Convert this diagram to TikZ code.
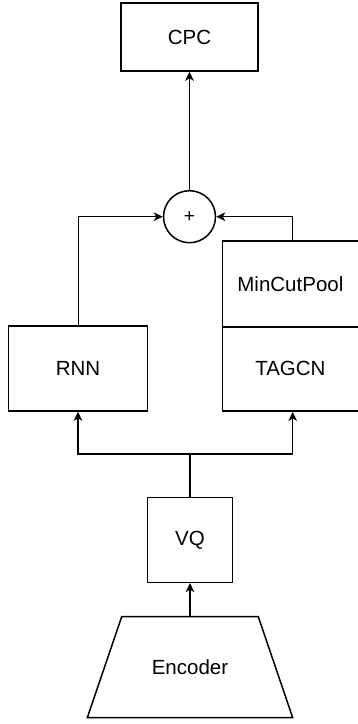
\documentclass[tikz,border=0pt]{standalone}
\usepackage{fontspec}
\setmainfont{Liberation Sans}
\usetikzlibrary{arrows.meta}
\begin{document}
\begin{tikzpicture}[x=1pt,y=-1pt,
  box/.style={draw, line width=1.5pt, rectangle, inner sep=0pt, font=\fontsize{20.5}{24}\selectfont},
  conn/.style={line width=1.5pt, -{Stealth[length=9pt,width=8.5pt,inset=2.5pt]}},
  plain/.style={line width=1.5pt}]
\clip (0,0) rectangle (358,724);
\fill[white] (0,0) rectangle (358,724);
\node[box, minimum width=137pt, minimum height=68pt] (cpc) at (189.5,37) {CPC};
\node[draw, circle, line width=1.5pt, minimum size=52pt, inner sep=0pt, font=\fontsize{19}{22}\selectfont] (sum) at (189.5,216.7) {+};
\node[box, minimum width=139.4pt, minimum height=85pt] (rnn) at (78,368.5) {RNN};
\node[box, minimum width=136pt, minimum height=85.7pt] (mincut) at (290.4,283.9) {MinCutPool};
\node[box, minimum width=136pt, minimum height=84.5pt] (tagcn) at (290.4,368.9) {TAGCN};
\node[box, minimum width=85.4pt, minimum height=85pt] (vq) at (190,539.8) {VQ};
\draw[line width=1.5pt] (121.7,616.7) -- (258.3,616.7) -- (292.7,717.7) -- (87.3,717.7) -- cycle;
\node[font=\fontsize{20.5}{24}\selectfont] (enc) at (190,667) {Encoder};
\coordinate (enctop) at (190,616.7);
\coordinate (split) at (190,454);
\coordinate (mcout) at (292.7,241.4);
\coordinate (rnnout) at (78.3,325.9);
% encoder -> VQ
\draw[conn] (enctop) -- (vq.south);
% VQ -> branches
\draw[plain] (vq.north) -- (split);
\draw[conn] (split) -| (rnn.south);
\draw[conn] (split) -| (tagcn.south -| mcout);
% to sum
\draw[conn] (rnnout) |- (sum.west);
\draw[conn] (mcout) |- (sum.east);
% sum -> CPC
\draw[conn] (sum.north) -- (cpc.south);
\end{tikzpicture}
\end{document}
